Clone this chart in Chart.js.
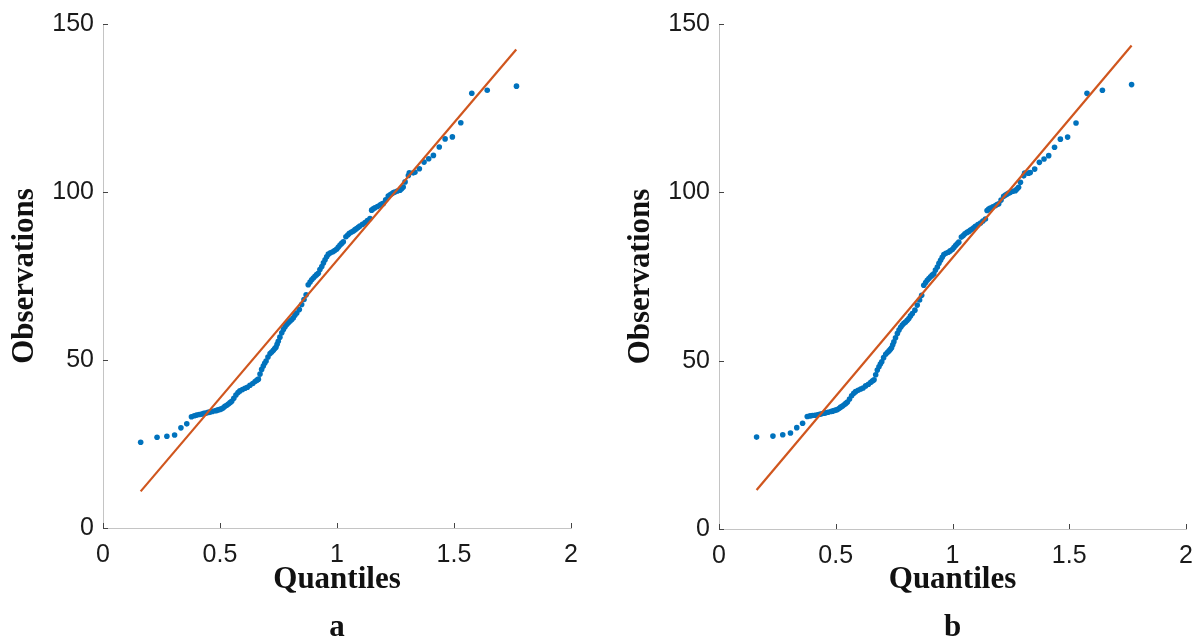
<!DOCTYPE html>
<html>
<head>
<meta charset="utf-8">
<script src="https://cdn.jsdelivr.net/npm/chart.js@4"></script>
<style>
  html, body { margin: 0; padding: 0; background: #fff; overflow: hidden; }
  #wrap { position: relative; width: 1197px; height: 641px; overflow: hidden; }
  .panel { position: absolute; top: 0; height: 660px; }
</style>
</head>
<body>
<div id="wrap">
  <div class="panel" style="left:0;width:598px"><canvas id="qqA"></canvas></div>
  <div class="panel" style="left:598px;width:599px"><canvas id="qqB"></canvas></div>
</div>
<script>
// theoretical quantiles (shared by both panels)
const quantiles = [
  0.161, 0.231, 0.273, 0.306, 0.333, 0.358, 0.378, 0.390, 0.400, 0.411,
  0.422, 0.431, 0.440, 0.449, 0.457, 0.467, 0.479, 0.486, 0.493, 0.500,
  0.507, 0.514, 0.521, 0.529, 0.536, 0.543, 0.550, 0.559, 0.568, 0.577,
  0.585, 0.596, 0.607, 0.617, 0.628, 0.640, 0.650, 0.658, 0.664, 0.671,
  0.678, 0.685, 0.691, 0.697, 0.705, 0.714, 0.721, 0.728, 0.734, 0.739,
  0.744, 0.749, 0.756, 0.764, 0.771, 0.778, 0.785, 0.792, 0.799, 0.806,
  0.813, 0.820, 0.828, 0.839, 0.849, 0.859, 0.868, 0.877, 0.885, 0.892,
  0.899, 0.906, 0.913, 0.920, 0.927, 0.935, 0.942, 0.949, 0.956, 0.963,
  0.972, 0.982, 0.990, 0.999, 1.006, 1.013, 1.020, 1.027, 1.038, 1.046,
  1.053, 1.062, 1.070, 1.077, 1.084, 1.091, 1.098, 1.109, 1.120, 1.130,
  1.141, 1.148, 1.155, 1.162, 1.173, 1.184, 1.191, 1.198, 1.208, 1.219,
  1.227, 1.234, 1.241, 1.248, 1.258, 1.269, 1.276, 1.283, 1.291, 1.305,
  1.309, 1.326, 1.333, 1.352, 1.372, 1.392, 1.412, 1.437, 1.462, 1.493,
  1.529, 1.576, 1.642, 1.767
];

// sorted observations, panel a
const obsA = [
  25.5, 27.0, 27.3, 27.7, 29.8, 31.0, 33.1, 33.4, 33.6, 33.8,
  33.9, 34.1, 34.2, 34.4, 34.5, 34.7, 34.9, 35.0, 35.2, 35.3,
  35.5, 35.8, 36.2, 36.5, 36.9, 37.3, 37.7, 38.6, 39.6, 40.3,
  40.8, 41.2, 41.6, 41.9, 42.5, 43.0, 43.6, 44.0, 44.3, 45.8,
  47.2, 48.2, 49.0, 49.7, 50.9, 51.9, 52.4, 52.9, 53.4, 53.8,
  54.7, 55.6, 56.8, 58.1, 59.1, 59.9, 60.6, 61.1, 61.5, 62.0,
  62.5, 63.3, 64.0, 65.0, 66.5, 68.0, 69.4, 72.4, 73.2, 73.9,
  74.4, 74.9, 75.4, 75.8, 76.9, 77.8, 78.9, 79.8, 80.7, 81.5,
  81.9, 82.2, 82.6, 83.0, 83.6, 84.2, 84.7, 85.2, 86.7, 87.2,
  87.7, 88.1, 88.4, 88.8, 89.1, 89.5, 89.9, 90.4, 90.9, 91.5,
  92.1, 94.6, 95.0, 95.3, 95.7, 96.1, 96.4, 96.6, 97.7, 98.8,
  99.2, 99.5, 99.8, 100.0, 100.3, 100.5, 101.0, 101.5, 103.0, 104.9,
  105.7, 105.7, 105.9, 106.9, 108.9, 109.9, 110.9, 113.4, 115.8, 116.4,
  120.6, 129.4, 130.3, 131.5
];

// sorted observations, panel b (differs only in the lowest values)
const obsB = [
  27.3, 27.6, 28.0, 28.5, 30.1, 31.4, 33.4, 33.6, 33.7, 33.8,
  33.9, 34.1, 34.2, 34.4, 34.5, 34.7, 34.9, 35.0, 35.2, 35.3,
  35.5, 35.8, 36.2, 36.5, 36.9, 37.3, 37.7, 38.6, 39.6, 40.3,
  40.8, 41.2, 41.6, 41.9, 42.5, 43.0, 43.6, 44.0, 44.3, 45.8,
  47.2, 48.2, 49.0, 49.7, 50.9, 51.9, 52.4, 52.9, 53.4, 53.8,
  54.7, 55.6, 56.8, 58.1, 59.1, 59.9, 60.6, 61.1, 61.5, 62.0,
  62.5, 63.3, 64.0, 65.0, 66.5, 68.0, 69.4, 72.4, 73.2, 73.9,
  74.4, 74.9, 75.4, 75.8, 76.9, 77.8, 78.9, 79.8, 80.7, 81.5,
  81.9, 82.2, 82.6, 83.0, 83.6, 84.2, 84.7, 85.2, 86.7, 87.2,
  87.7, 88.1, 88.4, 88.8, 89.1, 89.5, 89.9, 90.4, 90.9, 91.5,
  92.1, 94.6, 95.0, 95.3, 95.7, 96.1, 96.4, 96.6, 97.7, 98.8,
  99.2, 99.5, 99.8, 100.0, 100.3, 100.5, 101.0, 101.5, 103.0, 104.9,
  105.7, 105.7, 105.9, 106.9, 108.9, 109.9, 110.9, 113.4, 115.8, 116.4,
  120.6, 129.4, 130.3, 132.0
];

// fitted reference lines (end points)
const refXA = [0.161, 1.766];
const refYA = [10.9, 142.4];
const refXB = [0.161, 1.767];
const refYB = [11.6, 143.6];

const xTicks = [0, 0.5, 1, 1.5, 2];
const xTickLabels = ['0', '0.5', '1', '1.5', '2'];
const yTicks = [0, 50, 100, 150];
const yTickLabels = ['0', '50', '100', '150'];

const BLUE = '#0072BD';
const ORANGE = '#D0561E';
const CANVAS_H = 660;

// MATLAB style tick marks pointing into the plot area
const inwardTicks = {
  id: 'inwardTicks',
  afterDraw(chart) {
    const { ctx, chartArea: { left, bottom }, scales: { x, y } } = chart;
    ctx.save();
    ctx.strokeStyle = '#444';
    ctx.lineWidth = 1;
    ctx.beginPath();
    xTicks.forEach(v => {
      const px = Math.round(x.getPixelForValue(v)) + 0.5;
      ctx.moveTo(px, bottom);
      ctx.lineTo(px, bottom - 5);
    });
    yTicks.forEach(v => {
      const py = Math.round(y.getPixelForValue(v)) + 0.5;
      ctx.moveTo(left, py);
      ctx.lineTo(left + 5, py);
    });
    ctx.stroke();
    ctx.restore();
  }
};

function makeQQ(id, obs, refX, refY, label, box) {
  const points = quantiles.map((q, i) => ({ x: q, y: obs[i] }));
  const line = refX.map((q, i) => ({ x: q, y: refY[i] }));

  return new Chart(document.getElementById(id), {
    type: 'scatter',
    data: {
      datasets: [
        {
          data: points,
          backgroundColor: BLUE,
          borderWidth: 0,
          pointRadius: 2.8,
          pointHoverRadius: 2.8,
          order: 2,
        },
        {
          type: 'line',
          data: line,
          borderColor: ORANGE,
          borderWidth: 2.2,
          pointRadius: 0,
          fill: false,
          order: 1,
        },
      ],
    },
    options: {
      responsive: true,
      maintainAspectRatio: false,
      animation: false,
      layout: { padding: { left: 0, right: box.right, top: box.top, bottom: 0 } },
      plugins: { legend: { display: false }, tooltip: { enabled: false } },
      scales: {
        x: {
          type: 'linear',
          min: 0,
          max: 2,
          afterBuildTicks: s => { s.ticks = xTicks.map(v => ({ value: v })); },
          afterFit: s => {
            s.height = CANVAS_H - box.bottom;
            // edge labels are small, let layout padding decide the plot width
            s.paddingLeft = 0;
            s.paddingRight = 0;
          },
          grid: { display: true, drawOnChartArea: false, drawTicks: false },
          border: { display: true, color: '#c4c4c4', width: 1 },
          ticks: {
            color: '#1a1a1a',
            font: { family: '"Liberation Sans", Arial, sans-serif', size: 25 },
            padding: 12,
            maxRotation: 0,
            autoSkip: false,
            callback: (v, i) => xTickLabels[i],
          },
          title: {
            display: true,
            text: ['Quantiles', label],
            color: '#111',
            font: { family: '"Liberation Serif", "Times New Roman", serif', size: 31, weight: 'bold', lineHeight: 1.55 },
            padding: { top: 0, bottom: 8 },
          },
        },
        y: {
          type: 'linear',
          min: 0,
          max: 150,
          afterBuildTicks: s => { s.ticks = yTicks.map(v => ({ value: v })); },
          afterFit: s => { s.width = box.left; },
          grid: { display: true, drawOnChartArea: false, drawTicks: false },
          border: { display: true, color: '#c4c4c4', width: 1 },
          ticks: {
            color: '#1a1a1a',
            font: { family: '"Liberation Sans", Arial, sans-serif', size: 25 },
            padding: 9,
            autoSkip: false,
            callback: (v, i) => yTickLabels[i],
          },
          title: {
            display: true,
            text: 'Observations',
            color: '#111',
            font: { family: '"Liberation Serif", "Times New Roman", serif', size: 31, weight: 'bold', lineHeight: 1.2 },
            padding: { top: box.titlePad, bottom: 0 },
          },
        },
      },
    },
    plugins: [inwardTicks],
  });
}

makeQQ('qqA', obsA, refXA, refYA, 'a', { left: 103, right: 27, top: 21, bottom: 528, titlePad: 6 });
makeQQ('qqB', obsB, refXB, refYB, 'b', { left: 121, right: 11, top: 22, bottom: 529, titlePad: 24 });
</script>
</body>
</html>
